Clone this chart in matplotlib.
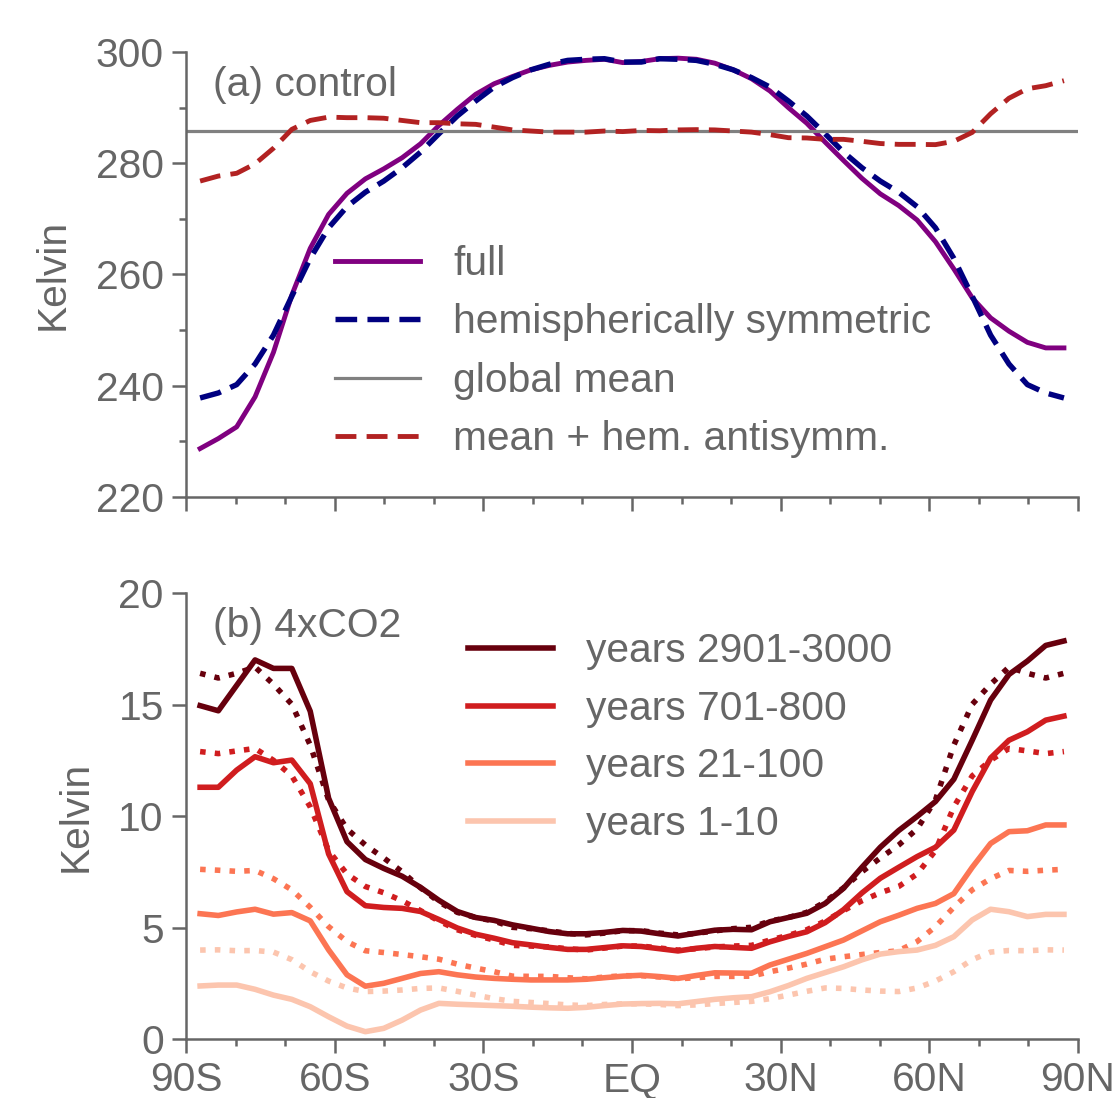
import numpy as np
import matplotlib
matplotlib.use('Agg')
import matplotlib.pyplot as plt
from matplotlib.ticker import MultipleLocator

plt.rcParams['font.family'] = ['Liberation Sans', 'DejaVu Sans']

# gaussian grid latitudes (48 points)
lats = [-87.16, -83.48, -79.78, -76.07, -72.36, -68.65, -64.94, -61.23, -57.52, -53.81, -50.10, -46.39,
        -42.68, -38.97, -35.26, -31.55, -27.83, -24.12, -20.41, -16.70, -12.99, -9.28, -5.57, -1.86,
        1.86, 5.57, 9.28, 12.99, 16.70, 20.41, 24.12, 27.83, 31.55, 35.26, 38.97, 42.68,
        46.39, 50.10, 53.81, 57.52, 61.23, 64.94, 68.65, 72.36, 76.07, 79.78, 83.48, 87.16]

# (a) control
t_full = [228.7, 230.5, 232.6, 238.0, 246.0, 256.3, 264.7, 270.8, 274.6, 277.2, 279.0, 281.0,
          283.5, 286.8, 289.7, 292.4, 294.3, 295.6, 296.8, 297.6, 298.2, 298.5, 298.7, 298.1,
          298.3, 298.8, 298.9, 298.7, 298.0, 296.8, 295.2, 293.0, 290.0, 287.2, 283.8, 280.5,
          277.3, 274.5, 272.4, 269.8, 265.9, 261.0, 255.8, 252.2, 249.8, 247.8, 246.8, 246.8]
t_sym = [237.8, 238.7, 240.2, 243.9, 249.1, 256.1, 262.9, 268.4, 272.2, 274.8, 276.8, 279.2,
         282.0, 285.3, 288.5, 291.2, 293.7, 295.4, 296.8, 297.8, 298.5, 298.7, 298.8, 298.2,
         298.2, 298.8, 298.7, 298.5, 297.8, 296.8, 295.4, 293.7, 291.2, 288.5, 285.3, 282.0,
         279.2, 276.8, 274.8, 272.2, 268.4, 262.9, 256.1, 249.1, 243.9, 240.2, 238.7, 237.8]
t_global = 285.8
t_antisym = [276.8, 277.7, 278.2, 279.9, 282.7, 286.1, 287.7, 288.3, 288.2, 288.2, 288.1, 287.7,
             287.3, 287.3, 287.1, 287.0, 286.5, 286.0, 285.8, 285.6, 285.6, 285.6, 285.8, 285.7,
             285.9, 285.85, 286.0, 286.05, 286.0, 285.8, 285.6, 285.15, 284.6, 284.55, 284.3, 284.3,
             283.95, 283.55, 283.4, 283.4, 283.35, 283.95, 285.55, 288.9, 291.7, 293.4, 293.95, 294.85]

# (b) 4xCO2 warming
labels_b = ['years 2901-3000', 'years 701-800', 'years 21-100', 'years 1-10']
colors_b = ['#67000d', '#d01d1f', '#fc7553', '#fcc5ae']
dt_2901 = [14.95, 14.72, 15.86, 17.0, 16.62, 16.62, 14.7, 10.8, 8.85, 8.05, 7.65, 7.3,
           6.8, 6.22, 5.72, 5.45, 5.32, 5.12, 4.97, 4.82, 4.72, 4.72, 4.78, 4.87,
           4.84, 4.72, 4.62, 4.75, 4.88, 4.92, 4.9, 5.26, 5.45, 5.64, 6.08, 6.76,
           7.7, 8.6, 9.35, 9.98, 10.65, 11.65, 13.4, 15.2, 16.35, 16.95, 17.65, 17.85]
dt_701 = [11.29, 11.29, 12.06, 12.66, 12.39, 12.51, 11.45, 8.3, 6.61, 5.98, 5.9, 5.86,
          5.72, 5.36, 4.98, 4.7, 4.52, 4.32, 4.22, 4.11, 4.02, 4.02, 4.1, 4.18,
          4.15, 4.05, 3.95, 4.07, 4.15, 4.11, 4.07, 4.36, 4.6, 4.81, 5.22, 5.8,
          6.55, 7.21, 7.7, 8.18, 8.6, 9.37, 11.1, 12.6, 13.4, 13.78, 14.3, 14.48]
dt_21 = [5.62, 5.54, 5.7, 5.82, 5.6, 5.67, 5.3, 4.0, 2.88, 2.37, 2.5, 2.72,
         2.94, 3.02, 2.88, 2.78, 2.72, 2.68, 2.65, 2.65, 2.65, 2.68, 2.75, 2.82,
         2.86, 2.8, 2.72, 2.85, 2.97, 2.96, 2.95, 3.32, 3.58, 3.84, 4.14, 4.44,
         4.85, 5.26, 5.55, 5.86, 6.08, 6.52, 7.7, 8.77, 9.3, 9.34, 9.6, 9.6]
dt_1 = [2.38, 2.42, 2.42, 2.23, 1.97, 1.78, 1.45, 1.0, 0.58, 0.33, 0.48, 0.85,
        1.3, 1.6, 1.56, 1.53, 1.5, 1.47, 1.43, 1.4, 1.38, 1.42, 1.5, 1.57,
        1.59, 1.6, 1.58, 1.68, 1.78, 1.85, 1.9, 2.12, 2.4, 2.72, 2.98, 3.24,
        3.55, 3.81, 3.92, 3.99, 4.2, 4.59, 5.34, 5.82, 5.71, 5.49, 5.59, 5.59]
# hemispherically symmetric parts (dotted)
dt_2901_sym = [16.4, 16.19, 16.4, 16.68, 15.91, 15.01, 13.18, 10.72, 9.42, 8.7, 8.12, 7.5,
               6.78, 6.15, 5.68, 5.45, 5.29, 5.01, 4.95, 4.85, 4.74, 4.67, 4.75, 4.86,
               4.86, 4.75, 4.67, 4.74, 4.85, 4.95, 5.01, 5.29, 5.45, 5.68, 6.15, 6.78,
               7.5, 8.12, 8.7, 9.42, 10.72, 13.18, 15.01, 15.91, 16.68, 16.4, 16.19, 16.4]
dt_701_sym = [12.89, 12.8, 12.92, 13.03, 12.5, 11.8, 10.41, 8.45, 7.4, 6.84, 6.56, 6.2,
              5.76, 5.29, 4.9, 4.65, 4.44, 4.2, 4.17, 4.13, 4.05, 3.99, 4.08, 4.17,
              4.17, 4.08, 3.99, 4.05, 4.13, 4.17, 4.2, 4.44, 4.65, 4.9, 5.29, 5.76,
              6.2, 6.56, 6.84, 7.4, 8.45, 10.41, 11.8, 12.5, 13.03, 12.92, 12.8, 12.89]
dt_21_sym = [7.61, 7.57, 7.52, 7.56, 7.19, 6.69, 5.91, 5.04, 4.37, 3.96, 3.88, 3.79,
             3.69, 3.58, 3.36, 3.18, 3.02, 2.82, 2.81, 2.81, 2.75, 2.7, 2.78, 2.84,
             2.84, 2.78, 2.7, 2.75, 2.81, 2.81, 2.82, 3.02, 3.18, 3.36, 3.58, 3.69,
             3.79, 3.88, 3.96, 4.37, 5.04, 5.91, 6.69, 7.19, 7.56, 7.52, 7.57, 7.61]
dt_1_sym = [3.99, 4.0, 3.96, 3.97, 3.9, 3.56, 3.02, 2.6, 2.29, 2.13, 2.15, 2.2,
            2.27, 2.29, 2.14, 1.97, 1.81, 1.69, 1.64, 1.59, 1.53, 1.5, 1.55, 1.58,
            1.58, 1.55, 1.5, 1.53, 1.59, 1.64, 1.69, 1.81, 1.97, 2.14, 2.29, 2.27,
            2.2, 2.15, 2.13, 2.29, 2.6, 3.02, 3.56, 3.9, 3.97, 3.96, 4.0, 3.99]

xticks = [-90, -60, -30, 0, 30, 60, 90]
xticklabels = ['90S', '60S', '30S', 'EQ', '30N', '60N', '90N']

txt = '#666666'
fs = 29.3

fig = plt.figure(figsize=(11.14, 10.98), dpi=100)
ax1 = fig.add_axes([0.167, 0.5474, 0.8007, 0.4052])
ax2 = fig.add_axes([0.167, 0.0537, 0.8007, 0.4062])


def style(ax):
    for s in ['top', 'right']:
        ax.spines[s].set_visible(False)
    for s in ['left', 'bottom']:
        ax.spines[s].set_color(txt)
        ax.spines[s].set_linewidth(1.8)
    ax.tick_params(which='major', direction='out', length=10, width=1.8, color=txt,
                   labelcolor=txt, labelsize=fs, pad=6)
    ax.tick_params(which='minor', direction='out', length=5, width=1.8, color=txt)
    ax.set_xlim(-90, 90)
    ax.set_xticks(xticks)
    ax.xaxis.set_minor_locator(MultipleLocator(10))
    ax.set_ylabel('Kelvin', fontsize=fs, color=txt, labelpad=17)


# top panel
ax1.plot(lats, t_full, color='purple', lw=3.5, label='full')
ax1.plot(lats, t_sym, color='navy', lw=3.9, dashes=(4.0, 1.9), label='hemispherically symmetric')
ax1.axhline(t_global, color='grey', lw=2.3, label='global mean')
ax1.plot(lats, t_antisym, color='firebrick', lw=3.5, dashes=(4.3, 2.1), label='mean + hem. antisymm.')
style(ax1)
ax1.set_xticklabels([])
ax1.set_ylim(220, 300)
ax1.set_yticks([220, 240, 260, 280, 300])
ax1.yaxis.set_minor_locator(MultipleLocator(10))
ax1.text(0.03, 0.927, '(a) control', transform=ax1.transAxes, fontsize=fs, color=txt, va='center')
leg = ax1.legend(loc='upper left', bbox_to_anchor=(0.167, 0.566), frameon=False, fontsize=fs,
                 handlelength=2.1, handletextpad=0.8, labelspacing=0.5, borderpad=0, borderaxespad=0)
for t in leg.get_texts():
    t.set_color(txt)

# bottom panel
series = [dt_2901, dt_701, dt_21, dt_1]
series_sym = [dt_2901_sym, dt_701_sym, dt_21_sym, dt_1_sym]
for vals, vals_sym, c, lab in zip(series, series_sym, colors_b, labels_b):
    ax2.plot(lats, vals, color=c, lw=4.0, label=lab)
    ax2.plot(lats, vals_sym, color=c, lw=4.0, ls=':')
style(ax2)
ax2.set_xticklabels(xticklabels)
ax2.set_ylim(0, 20)
ax2.set_yticks([0, 5, 10, 15, 20])
ax2.text(0.03, 0.926, '(b) 4xCO2', transform=ax2.transAxes, fontsize=fs, color=txt, va='center')
leg2 = ax2.legend(loc='upper left', bbox_to_anchor=(0.316, 0.912), frameon=False, fontsize=fs,
                  handlelength=2.1, handletextpad=0.8, labelspacing=0.48, borderpad=0, borderaxespad=0)
for t in leg2.get_texts():
    t.set_color(txt)

fig.savefig('out.png', dpi=100)
